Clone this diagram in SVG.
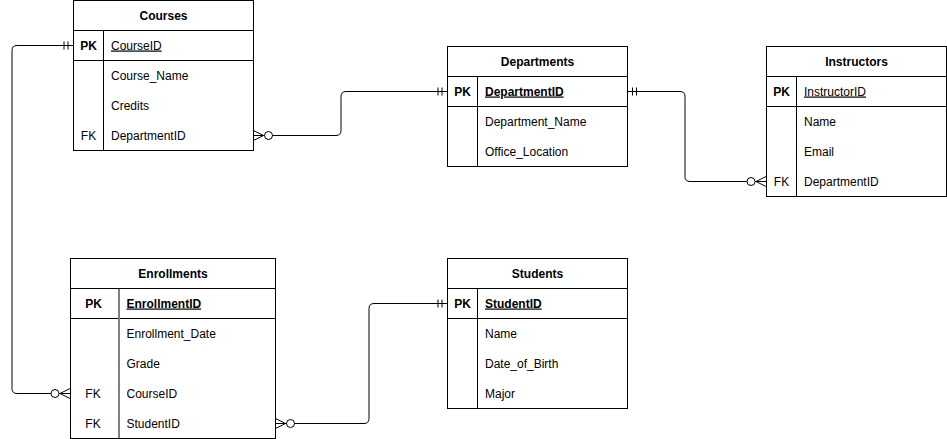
<svg xmlns="http://www.w3.org/2000/svg" width="947" height="439" viewBox="0 0 947 439">
<style>
.box{fill:#fff;stroke:#000;stroke-width:1}
.ln{stroke:#000;stroke-width:1;fill:none}
.dv{stroke:#000;stroke-width:1}
.gdv{stroke:#808080;stroke-width:2}
text{font-family:"Liberation Sans",Arial,Helvetica,sans-serif;font-size:12px;fill:#000}
.t{font-weight:bold;text-anchor:middle}
.k{font-weight:bold;text-anchor:middle}
.f{text-anchor:middle}
.u{text-decoration:underline}
.b{font-weight:bold}
.con{stroke:#000;stroke-width:1;fill:none;marker-start:url(#ms);marker-end:url(#me)}
</style>
<defs>
<marker id="one" markerUnits="userSpaceOnUse" orient="auto-start-reverse" refX="0" refY="0" markerWidth="1" markerHeight="1" overflow="visible">
<path d="M-9,-4V4M-5,-4V4" stroke="#000" stroke-width="1" fill="none"/>
</marker>
<marker id="many" markerUnits="userSpaceOnUse" orient="auto-start-reverse" refX="0" refY="0" markerWidth="1" markerHeight="1" overflow="visible">
<path d="M0,-5L-10,0L0,5M-10,0H0" stroke="#000" stroke-width="1" fill="none"/>
<circle cx="-15" cy="0" r="4" fill="#fff" stroke="#000" stroke-width="1"/>
</marker>
</defs>

<g id="connectors">
<path class="ln" d="M73,45.5H17Q12,45.5 12,50.5V388.5Q12,393.5 17,393.5H70" marker-start="url(#one)" marker-end="url(#many)"/>
<path class="ln" d="M253.5,135.5H336Q341,135.5 341,130.5V96.5Q341,91.5 346,91.5H447" marker-start="url(#many)" marker-end="url(#one)"/>
<path class="ln" d="M627.5,91.5H680Q685,91.5 685,96.5V176.5Q685,181.5 690,181.5H766" marker-start="url(#one)" marker-end="url(#many)"/>
<path class="ln" d="M275.5,423.5H364Q369,423.5 369,418.5V308.5Q369,303.5 374,303.5H447" marker-start="url(#many)" marker-end="url(#one)"/>
</g>

<g id="courses">
<rect class="box" x="73.5" y="0.5" width="180" height="150"/>
<line class="dv" x1="73.5" y1="30.5" x2="253.5" y2="30.5"/>
<line class="dv" x1="73.5" y1="60.5" x2="253.5" y2="60.5"/>
<line class="dv" x1="103.5" y1="30.5" x2="103.5" y2="150.5"/>
<text class="t" x="163.5" y="19.5">Courses</text>
<text class="k" x="88.5" y="49.5">PK</text>
<text class="u" x="111" y="49.5">CourseID</text>
<text x="111" y="79.5">Course_Name</text>
<text x="111" y="109.5">Credits</text>
<text class="f" x="88.5" y="139.5">FK</text>
<text x="111" y="139.5">DepartmentID</text>
</g>

<g id="departments">
<rect class="box" x="447.5" y="46.5" width="180" height="120"/>
<line class="dv" x1="447.5" y1="76.5" x2="627.5" y2="76.5"/>
<line class="dv" x1="447.5" y1="106.5" x2="627.5" y2="106.5"/>
<line class="dv" x1="477.5" y1="76.5" x2="477.5" y2="166.5"/>
<text class="t" x="537.5" y="65.5">Departments</text>
<text class="k" x="462.5" y="95.5">PK</text>
<text class="u b" x="485" y="95.5">DepartmentID</text>
<text x="485" y="125.5">Department_Name</text>
<text x="485" y="155.5">Office_Location</text>
</g>

<g id="instructors">
<rect class="box" x="766.5" y="46.5" width="180" height="150"/>
<line class="dv" x1="766.5" y1="76.5" x2="946.5" y2="76.5"/>
<line class="dv" x1="766.5" y1="106.5" x2="946.5" y2="106.5"/>
<line class="dv" x1="796.5" y1="76.5" x2="796.5" y2="196.5"/>
<text class="t" x="856.5" y="65.5">Instructors</text>
<text class="k" x="781.5" y="95.5">PK</text>
<text class="u" x="804" y="95.5">InstructorID</text>
<text x="804" y="125.5">Name</text>
<text x="804" y="155.5">Email</text>
<text class="f" x="781.5" y="185.5">FK</text>
<text x="804" y="185.5">DepartmentID</text>
</g>

<g id="enrollments">
<rect class="box" x="70.5" y="258.5" width="205" height="180"/>
<line class="dv" x1="70.5" y1="288.5" x2="275.5" y2="288.5"/>
<line class="dv" x1="70.5" y1="318.5" x2="275.5" y2="318.5"/>
<line class="gdv" x1="119" y1="289" x2="119" y2="438"/>
<text class="t" x="173" y="277.5">Enrollments</text>
<text class="k" x="93.5" y="307.5">PK</text>
<text class="u b" x="126.5" y="307.5">EnrollmentID</text>
<text x="126.5" y="337.5">Enrollment_Date</text>
<text x="126.5" y="367.5">Grade</text>
<text class="f" x="93" y="397.5">FK</text>
<text x="126.5" y="397.5">CourseID</text>
<text class="f" x="93" y="427.5">FK</text>
<text x="126.5" y="427.5">StudentID</text>
</g>

<g id="students">
<rect class="box" x="447.5" y="258.5" width="180" height="150"/>
<line class="dv" x1="447.5" y1="288.5" x2="627.5" y2="288.5"/>
<line class="dv" x1="447.5" y1="318.5" x2="627.5" y2="318.5"/>
<line class="dv" x1="477.5" y1="288.5" x2="477.5" y2="408.5"/>
<text class="t" x="537.5" y="277.5">Students</text>
<text class="k" x="462.5" y="307.5">PK</text>
<text class="u b" x="485" y="307.5">StudentID</text>
<text x="485" y="337.5">Name</text>
<text x="485" y="367.5">Date_of_Birth</text>
<text x="485" y="397.5">Major</text>
</g>
</svg>
